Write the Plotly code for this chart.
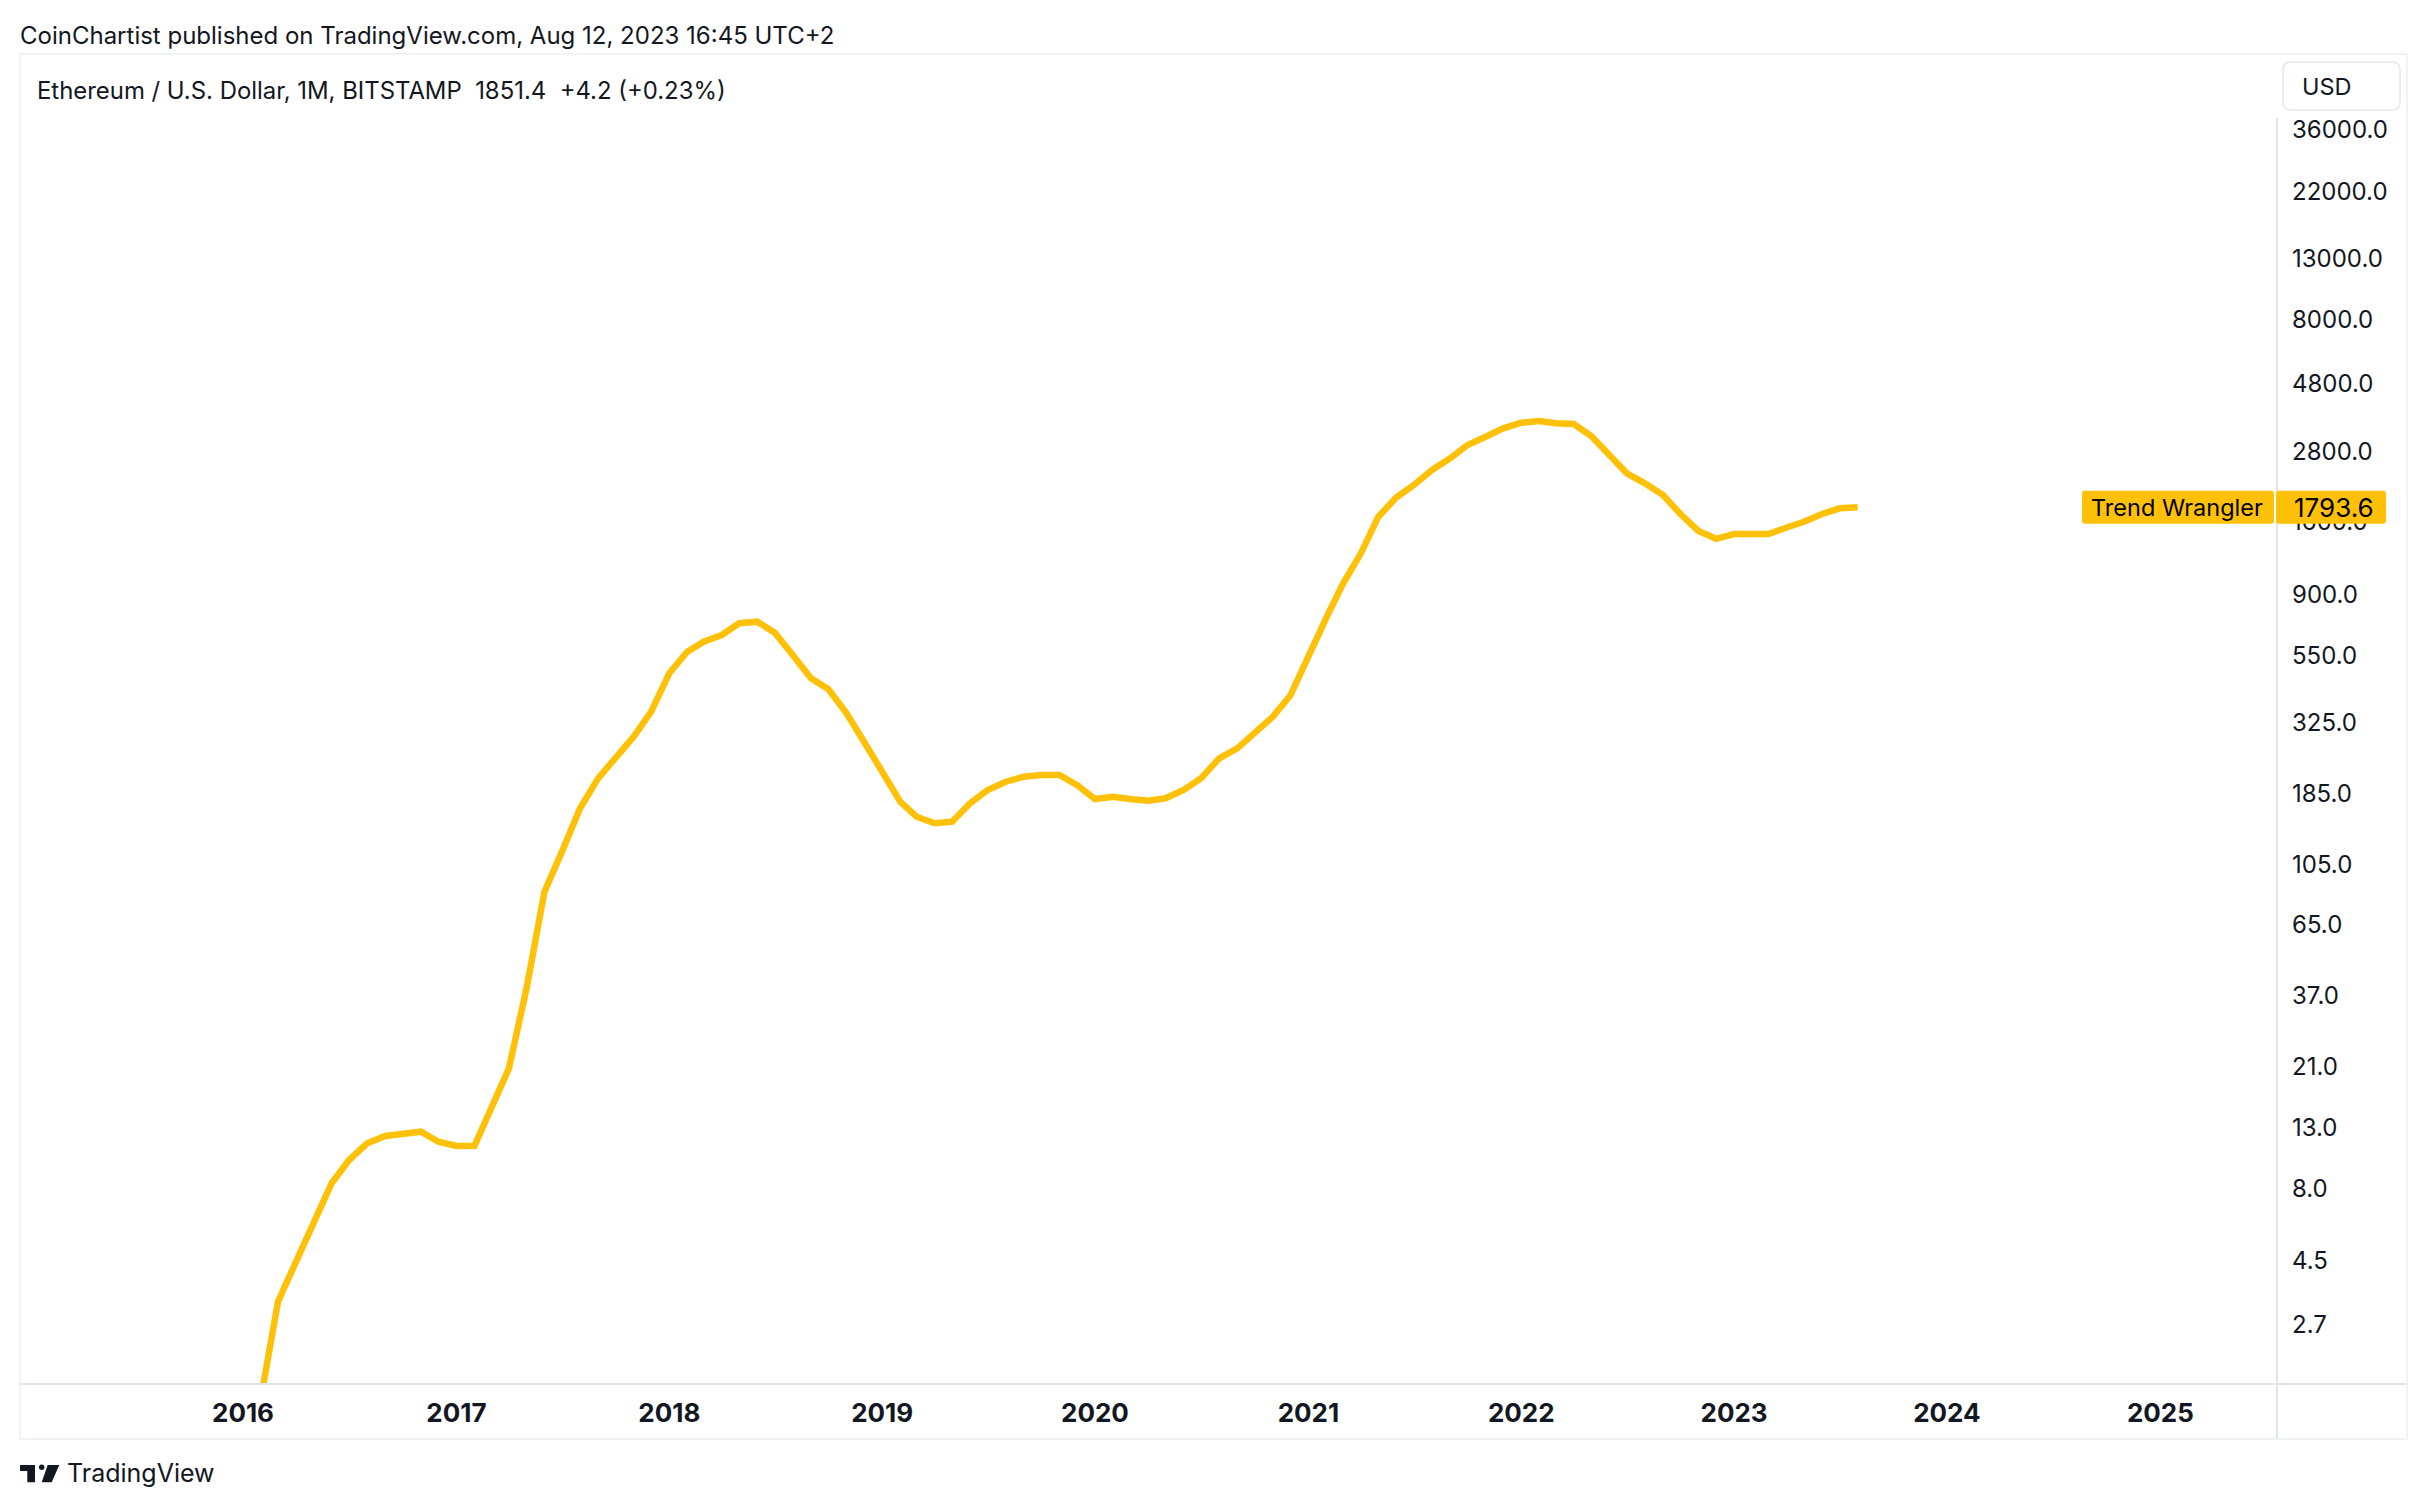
import math
import pandas as pd
import plotly.graph_objects as go

# ---------------- data ----------------
eth_values = [
    1.52, 3.25, 4.47, 6.06, 8.33, 10.02, 11.44, 12.13, 12.32, 12.55, 11.59,
    11.20, 11.22, 15.11, 20.77, 39.0, 84.5, 116.2, 164.0, 208.2, 247.2,
    289.9, 353.6, 479.7, 569.4, 616.6, 650.4, 713.8, 722.8, 662.2, 553.4,
    460.9, 422.4, 349.1, 278.5, 219.4, 172.9, 153.4, 145.6, 147.5, 170.7,
    189.7, 202.6, 210.9, 213.8, 213.8, 197.4, 176.6, 179.9, 176.6, 174.3,
    177.6, 189.7, 208.2, 244.1, 264.2, 297.8, 339.8, 402.0, 554.8, 747.4,
    975.2, 1245, 1665, 1943, 2142, 2414, 2650, 2944, 3145, 3362,
    3515, 3563, 3499, 3478, 3162, 2719, 2351, 2171, 1979, 1701,
    1486, 1397, 1451, 1451, 1451, 1528, 1599, 1701, 1780, 1793.6,
]
months = pd.date_range("2016-02-01", periods=len(eth_values), freq="MS")

year_tick_vals = ["2016-01-01", "2017-01-01", "2018-01-01", "2019-01-01", "2020-01-01",
                  "2021-01-01", "2022-01-01", "2023-01-01", "2024-01-01", "2025-01-01"]
year_tick_text = ["2016", "2017", "2018", "2019", "2020", "2021", "2022", "2023", "2024", "2025"]

price_tick_vals = [2.7, 4.5, 8, 13, 21, 37, 65, 105, 185, 325, 550, 900,
                   1600, 2800, 4800, 8000, 13000, 22000, 36000]
price_tick_text = ["2.7", "4.5", "8.0", "13.0", "21.0", "37.0", "65.0", "105.0", "185.0",
                   "325.0", "550.0", "900.0", "1600.0", "2800.0", "4800.0", "8000.0",
                   "13000.0", "22000.0", "36000.0"]

series_name = "Trend Wrangler"
header_title = "Ethereum / U.S. Dollar, 1M, BITSTAMP\u00a0\u00a01851.4\u00a0\u00a0+4.2 (+0.23%)"
publish_text = "CoinChartist published on TradingView.com, Aug 12, 2023 16:45 UTC+2"

# ---------------- layout geometry ----------------
W, H = 2428, 1510
L, R, T, B = 20, 151, 54, 126
PW, PH = W - L - R, H - T - B
Y_MIN, Y_MAX = 0.2277, 4.8186
X_RANGE = ["2014-12-14 14:00", "2025-07-20"]

TEXT = "#131722"
LINE_COLOR = "#FFC107"
AXIS_COLOR = "#e0e3eb"
FONT = "Inter, Roboto, sans-serif"


def px_x(px):
    return (px - L) / PW


def px_y(py):
    return (H - B - py) / PH


def rounded_rect(x0, y0, x1, y1, r):
    X0, X1 = px_x(x0), px_x(x1)
    Yt, Yb = px_y(y0), px_y(y1)
    rx, ry = r / PW, r / PH
    return (f"M {X0+rx},{Yt} L {X1-rx},{Yt} Q {X1},{Yt} {X1},{Yt-ry} "
            f"L {X1},{Yb+ry} Q {X1},{Yb} {X1-rx},{Yb} L {X0+rx},{Yb} "
            f"Q {X0},{Yb} {X0},{Yb+ry} L {X0},{Yt-ry} Q {X0},{Yt} {X0+rx},{Yt} Z")


def poly(points):
    pts = [f"{px_x(x)},{px_y(y)}" for x, y in points]
    return "M " + " L ".join(pts) + " Z"


fig = go.Figure()
fig.add_trace(go.Scatter(
    x=months, y=eth_values, mode="lines", name=series_name,
    line=dict(color=LINE_COLOR, width=6.5, shape="linear"),
    hoverinfo="x+y",
))

# badge position from last value
last_val = eth_values[-1]
py_last = T + (Y_MAX - math.log10(last_val)) / (Y_MAX - Y_MIN) * PH

shapes = [
    # outer frame
    dict(type="rect", xref="paper", yref="paper", x0=px_x(20), x1=px_x(2407),
         y0=px_y(1439), y1=px_y(54), line=dict(color="#eceef3", width=1.5),
         fillcolor="rgba(0,0,0,0)", layer="below"),
    # time axis separator
    dict(type="line", xref="paper", yref="paper", x0=px_x(20), x1=px_x(2407),
         y0=px_y(1384), y1=px_y(1384), line=dict(color=AXIS_COLOR, width=2)),
    # price axis separator
    dict(type="line", xref="paper", yref="paper", x0=px_x(2277), x1=px_x(2277),
         y0=px_y(118), y1=px_y(1439), line=dict(color=AXIS_COLOR, width=2)),
    # USD box
    dict(type="path", xref="paper", yref="paper", path=rounded_rect(2283, 62, 2400, 110, 8),
         line=dict(color="#e6e8ee", width=1.5), fillcolor="white"),
    # badge: name
    dict(type="path", xref="paper", yref="paper",
         path=rounded_rect(2082, py_last - 16.5, 2274, py_last + 16.5, 3),
         line=dict(width=0), fillcolor=LINE_COLOR, layer="above"),
    # badge: value
    dict(type="path", xref="paper", yref="paper",
         path=rounded_rect(2276, py_last - 16.5, 2386, py_last + 16.5, 3),
         line=dict(width=0), fillcolor=LINE_COLOR, layer="above"),
    # TradingView logo
    dict(type="path", xref="paper", yref="paper",
         path=poly([(20, 1465), (35, 1465), (35, 1482.3), (27.3, 1482.3), (27.3, 1471), (20, 1471)]),
         line=dict(width=0), fillcolor=TEXT),
    dict(type="circle", xref="paper", yref="paper",
         x0=px_x(39), x1=px_x(44.4), y0=px_y(1470), y1=px_y(1464.6),
         line=dict(width=0), fillcolor=TEXT),
    dict(type="path", xref="paper", yref="paper",
         path=poly([(47.7, 1465), (59.3, 1465), (51.7, 1482.3), (41.7, 1482.3)]),
         line=dict(width=0), fillcolor=TEXT),
]

annotations = [
    dict(text=publish_text, xref="paper", yref="paper", x=px_x(18), y=px_y(35),
         xanchor="left", yanchor="middle", showarrow=False,
         font=dict(family=FONT, size=24, color=TEXT)),
    dict(text=header_title, xref="paper", yref="paper", x=px_x(35), y=px_y(90),
         xanchor="left", yanchor="middle", showarrow=False,
         font=dict(family=FONT, size=23.9, color=TEXT)),
    dict(text="USD", xref="paper", yref="paper", x=px_x(2300), y=px_y(87),
         xanchor="left", yanchor="middle", showarrow=False,
         font=dict(family=FONT, size=23.5, color=TEXT)),
    dict(text=series_name, xref="paper", yref="paper", x=px_x(2089), y=px_y(py_last),
         xanchor="left", yanchor="middle", showarrow=False,
         font=dict(family=FONT, size=23.5, color="#000000")),
    dict(text=f"{last_val:.1f}", xref="paper", yref="paper", x=px_x(2292), y=px_y(py_last),
         xanchor="left", yanchor="middle", showarrow=False,
         font=dict(family=FONT, size=26, color="#000000")),
    dict(text="TradingView", xref="paper", yref="paper", x=px_x(65), y=px_y(1473),
         xanchor="left", yanchor="middle", showarrow=False,
         font=dict(family=FONT, size=25, color=TEXT)),
]

fig.update_layout(
    width=W, height=H,
    margin=dict(l=L, r=R, t=T, b=B, pad=0),
    paper_bgcolor="white", plot_bgcolor="white",
    showlegend=False,
    shapes=shapes, annotations=annotations,
    xaxis=dict(
        type="date", range=X_RANGE, showgrid=False, zeroline=False, showline=False,
        tickvals=year_tick_vals, ticktext=year_tick_text, ticks="",
        ticklabelstandoff=11,
        tickfont=dict(family=FONT, size=26, color=TEXT, weight="bold"),
    ),
    yaxis=dict(
        type="log", side="right", range=[Y_MIN, Y_MAX], showgrid=False, zeroline=False,
        showline=False, tickvals=price_tick_vals, ticktext=price_tick_text, ticks="",
        ticklabelstandoff=14,
        tickfont=dict(family=FONT, size=24, color=TEXT),
    ),
)

fig.write_html(
    "out.html",
    config={"displayModeBar": False},
    post_script="document.body.style.margin='0';document.body.style.overflow='hidden';",
)
